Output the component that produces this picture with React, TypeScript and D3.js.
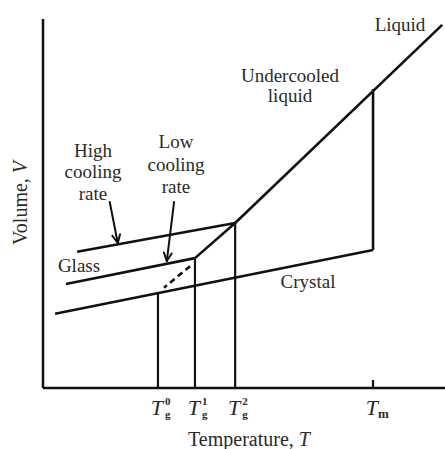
import React from "react";
import * as d3 from "d3";

// Data (arbitrary units: temperature 0..100, volume 0..100)
const liquidLine: [number, number][] = [[47.8, 44.7], [99.3, 98.4]];
const supercooledToTg1: [number, number][] = [[37.8, 35.2], [47.8, 44.7]];
const crystalLine: [number, number][] = [[3.0, 20.1], [82.1, 37.4]];
const highGlass: [number, number][] = [[8.5, 36.9], [47.8, 44.7]];
const lowGlass: [number, number][] = [[5.7, 28.2], [37.8, 35.2]];
const dashedLine: [number, number][] = [[36.6, 33.0], [30.1, 27.2]];
const meltDrop: [number, number][] = [[82.1, 81.0], [82.1, 37.4]];
const tgVerticals: [number, number][] = [[28.6, 25.7], [37.8, 35.2], [47.8, 44.7]];
const tickTemps = [28.6, 37.8, 47.8, 82.1];
const tickSups = ["0", "1", "2", ""];
const tickSubs = ["g", "g", "g", "m"];
const arrows: [[number, number], [number, number]][] = [
  [[16.6, 50.4], [18.6, 39.3]],
  [[32.6, 50.4], [30.8, 34.4]],
];

const W = 445, H = 449;
const x = d3.scaleLinear().domain([0, 100]).range([43, 445]);
const y = d3.scaleLinear().domain([0, 100]).range([388, 19]);
const line = d3.line<[number, number]>().x(d => x(d[0])).y(d => y(d[1]));

const ink = "#111";
const txt = "#2a2a2a";
const font = "'Liberation Serif', 'Times New Roman', serif";

function Arrow({ a, b }: { a: [number, number]; b: [number, number] }) {
  const x1 = x(a[0]), y1 = y(a[1]), x2 = x(b[0]), y2 = y(b[1]);
  const ang = Math.atan2(y2 - y1, x2 - x1);
  const L = 9, sp = 0.45;
  const p1 = [x2 - L * Math.cos(ang - sp), y2 - L * Math.sin(ang - sp)];
  const p2 = [x2 - L * Math.cos(ang + sp), y2 - L * Math.sin(ang + sp)];
  return (
    <g stroke={ink} strokeWidth={2} fill="none" strokeLinecap="round" strokeLinejoin="round">
      <line x1={x1} y1={y1} x2={x2} y2={y2} />
      <polyline points={`${p1[0]},${p1[1]} ${x2},${y2} ${p2[0]},${p2[1]}`} />
    </g>
  );
}

export default function App() {
  return (
    <svg width={W} height={H} style={{ position: "absolute", left: 0, top: 0, background: "#fff" }}>
      {/* axes */}
      <g stroke={ink} strokeWidth={2.5} fill="none">
        <line x1={x(0)} y1={y(100)} x2={x(0)} y2={y(0)} />
        <line x1={x(0)} y1={y(0)} x2={x(100)} y2={y(0)} />
      </g>
      {/* lines */}
      <g stroke={ink} strokeWidth={2.6} fill="none" strokeLinecap="butt">
        <path d={line(liquidLine)!} />
        <path d={line(supercooledToTg1)!} />
        <path d={line(crystalLine)!} />
        <path d={line(highGlass)!} />
        <path d={line(lowGlass)!} />
        <path d={line(meltDrop)!} />
        <path d={line(dashedLine)!} strokeDasharray="6,4" />
      </g>
      <g stroke={ink} strokeWidth={2.2}>
        {tgVerticals.map((d, i) => (
          <line key={i} x1={x(d[0])} y1={y(d[1])} x2={x(d[0])} y2={y(0)} />
        ))}
        <line x1={x(tickTemps[3])} y1={y(0)} x2={x(tickTemps[3])} y2={y(0) - 8} />
      </g>
      {arrows.map((a, i) => <Arrow key={i} a={a[0]} b={a[1]} />)}
      {/* tick labels */}
      <g fontFamily={font} fill={txt}>
        {tickTemps.map((t, i) => (
          <g key={i}>
            <text x={x(t) + 5} y={415} textAnchor="end" fontSize={22} fontStyle="italic">T</text>
            {tickSups[i] && (
              <text x={x(t) + 7} y={405} fontSize={11} fontWeight="bold">{tickSups[i]}</text>
            )}
            <text x={x(t) + (i === 3 ? 5 : 7)} y={418} fontSize={i === 3 ? 13 : 11} fontWeight="bold">{tickSubs[i]}</text>
          </g>
        ))}
      </g>
      <g fontFamily={font} fill={txt} fontSize={20} textAnchor="middle">
        <text x={249} y={446}>Temperature, <tspan fontStyle="italic">T</tspan></text>
        <text transform="translate(27,203) rotate(-90)">Volume, <tspan fontStyle="italic">V</tspan></text>
      </g>
      <g fontFamily={font} fill={txt} fontSize={19} textAnchor="middle">
        <text x={400} y={31}>Liquid</text>
        <text x={290} y={82}>Undercooled</text>
        <text x={290} y={102}>liquid</text>
        <text x={93} y={157}>High</text>
        <text x={93} y={178}>cooling</text>
        <text x={93} y={200}>rate</text>
        <text x={176} y={148}>Low</text>
        <text x={176} y={171}>cooling</text>
        <text x={176} y={193}>rate</text>
        <text x={79} y={272}>Glass</text>
        <text x={308} y={288}>Crystal</text>
      </g>
    </svg>
  );
}
